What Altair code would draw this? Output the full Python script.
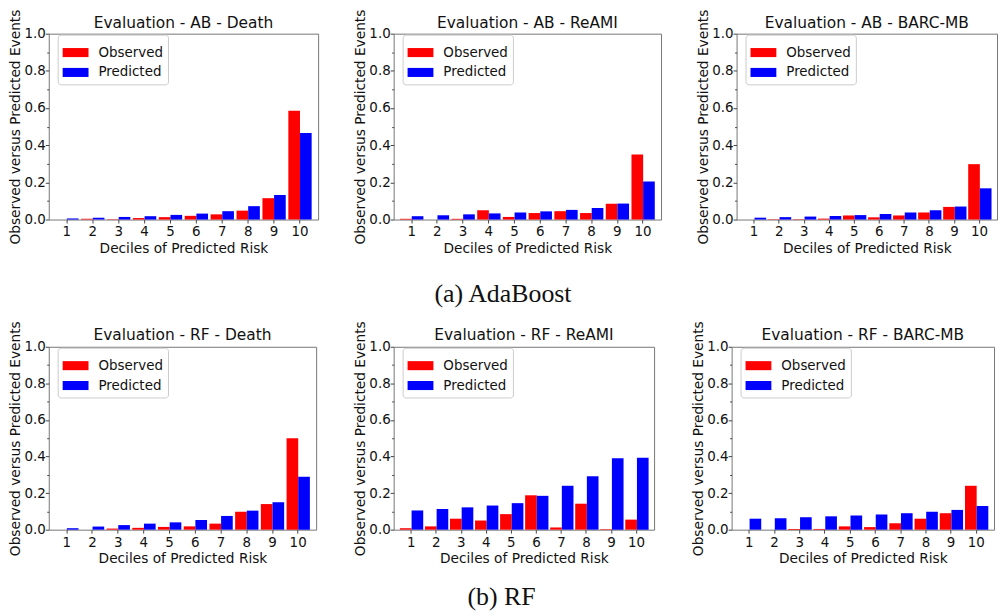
import altair as alt
import pandas as pd

deciles = [1, 2, 3, 4, 5, 6, 7, 8, 9, 10]
series = ["Observed", "Predicted"]
y_ticks = [0.0, 0.1, 0.2, 0.3, 0.4, 0.5, 0.6, 0.7, 0.8, 0.9, 1.0]

titles_ab = ["Evaluation - AB - Death", "Evaluation - AB - ReAMI", "Evaluation - AB - BARC-MB"]
titles_rf = ["Evaluation - RF - Death", "Evaluation - RF - ReAMI", "Evaluation - RF - BARC-MB"]
captions = ["(a) AdaBoost", "(b) RF"]

ab_death_obs = [0.0, 0.004, 0.002, 0.008, 0.013, 0.020, 0.028, 0.048, 0.115, 0.585]
ab_death_pred = [0.006, 0.010, 0.014, 0.018, 0.025, 0.032, 0.045, 0.072, 0.132, 0.465]

ab_reami_obs = [0.004, 0.0, 0.004, 0.050, 0.014, 0.035, 0.045, 0.035, 0.085, 0.350]
ab_reami_pred = [0.018, 0.023, 0.028, 0.033, 0.038, 0.044, 0.052, 0.062, 0.086, 0.205]

ab_barc_obs = [0.0, 0.002, 0.002, 0.005, 0.022, 0.012, 0.022, 0.038, 0.068, 0.298]
ab_barc_pred = [0.010, 0.013, 0.016, 0.019, 0.024, 0.030, 0.038, 0.050, 0.070, 0.168]

rf_death_obs = [0.0, 0.0, 0.006, 0.010, 0.015, 0.018, 0.033, 0.098, 0.140, 0.500]
rf_death_pred = [0.008, 0.017, 0.025, 0.033, 0.040, 0.053, 0.075, 0.104, 0.150, 0.290]

rf_reami_obs = [0.008, 0.018, 0.060, 0.050, 0.085, 0.188, 0.012, 0.142, 0.003, 0.055]
rf_reami_pred = [0.105, 0.113, 0.122, 0.132, 0.145, 0.185, 0.240, 0.292, 0.390, 0.393]

rf_barc_obs = [0.0, 0.0, 0.004, 0.004, 0.018, 0.014, 0.035, 0.060, 0.090, 0.240]
rf_barc_pred = [0.060, 0.063, 0.068, 0.073, 0.078, 0.083, 0.090, 0.098, 0.108, 0.130]

FONT = "DejaVu Sans"
TXT = "#111111"


def panel(title, obs, pred, width, height):
    df = pd.DataFrame({
        "Decile": deciles + deciles,
        "Series": [series[0]] * len(obs) + [series[1]] * len(pred),
        "Value": obs + pred,
    })
    return alt.Chart(df, title=alt.TitleParams(title, offset=-23)).mark_bar().encode(
        x=alt.X(
            "Decile:O",
            scale=alt.Scale(paddingInner=0.1, paddingOuter=0.25),
            axis=alt.Axis(title="Deciles of Predicted Risk", labelAngle=0, tickSize=3.5,
                          labelPadding=2, titlePadding=3),
        ),
        xOffset=alt.XOffset("Series:N", scale=alt.Scale(domain=series, paddingInner=0, paddingOuter=0)),
        y=alt.Y(
            "Value:Q",
            scale=alt.Scale(domain=[0, 1], nice=False, zero=True),
            axis=alt.Axis(
                title="Observed versus Predicted Events",
                values=y_ticks,
                labelExpr="round(datum.value*10) % 2 == 0 ? format(datum.value, '.1f') : ''",
                tickSize={"condition": {"test": "round(datum.value*10) % 2 == 0", "value": 3.5}, "value": 2},
                labelPadding=0,
                titlePadding=1,
                labelOverlap=False,
            ),
        ),
        color=alt.Color(
            "Series:N",
            scale=alt.Scale(domain=series, range=["#ff0000", "#0000ff"]),
            legend=alt.Legend(
                title=None, orient="none", legendX=9, legendY=1, direction="vertical",
                symbolType="M-1,-0.35H1V0.35H-1Z", symbolSize=676, symbolStrokeWidth=0,
                symbolOpacity=1, labelFont=FONT, labelFontSize=13.5, labelColor=TXT,
                labelOffset=10, strokeColor="#cccccc", fillColor="white", cornerRadius=3,
                padding=5, rowPadding=-6,
            ),
        ),
    ).properties(width=width, height=height)


row1 = alt.hconcat(
    panel(titles_ab[0], ab_death_obs, ab_death_pred, 271, 187),
    panel(titles_ab[1], ab_reami_obs, ab_reami_pred, 269, 187),
    panel(titles_ab[2], ab_barc_obs, ab_barc_pred, 262, 187),
    spacing=76, bounds="flush",
    title=alt.TitleParams(captions[0], orient="bottom", anchor="middle", font="Liberation Serif",
                          fontSize=26, fontWeight="normal", color="#111111", offset=26),
).resolve_scale(color="independent").resolve_legend(color="independent")

row2 = alt.hconcat(
    panel(titles_rf[0], rf_death_obs, rf_death_pred, 269, 184),
    panel(titles_rf[1], rf_reami_obs, rf_reami_pred, 262, 184),
    panel(titles_rf[2], rf_barc_obs, rf_barc_pred, 264, 184),
    spacing=78, bounds="flush",
    title=alt.TitleParams(captions[1], orient="bottom", anchor="middle", font="Liberation Serif",
                          fontSize=26, fontWeight="normal", color="#111111", offset=18),
).resolve_scale(color="independent").resolve_legend(color="independent")

chart = alt.vconcat(row1, row2, spacing=12).resolve_scale(color="independent").resolve_legend(
    color="independent"
).properties(
    padding={"left": 0, "top": -2, "right": 0, "bottom": 0}, background="white"
).configure_view(
    stroke="#777777", strokeWidth=1
).configure_axis(
    domain=False, grid=False, labelFont=FONT, labelFontSize=13.5, labelColor=TXT,
    titleFont=FONT, titleFontSize=13.8, titleFontWeight="normal", titleColor=TXT,
    tickColor="#444444", tickWidth=1,
).configure_title(
    font=FONT, fontSize=15.5, fontWeight="normal", color=TXT
)

chart.save("out.html", embed_options={"renderer": "svg", "actions": False})
